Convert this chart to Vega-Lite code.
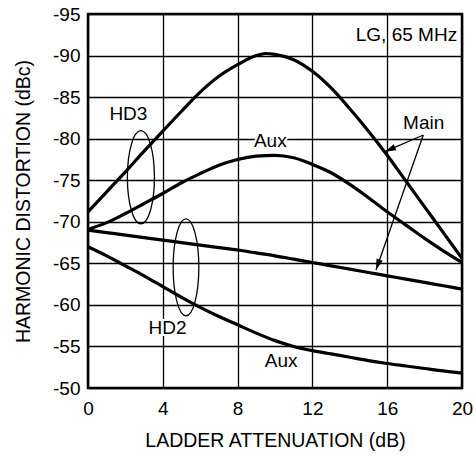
{
  "$schema": "https://vega.github.io/schema/vega-lite/v6.json",
  "width": 374,
  "height": 374,
  "autosize": {"type": "none"},
  "padding": {"left": 88, "top": 14, "right": 12, "bottom": 70},
  "background": "white",
  "config": {
    "font": "Liberation Sans",
    "view": {"stroke": "#000", "strokeWidth": 2.5},
    "axis": {
      "grid": true, "gridColor": "#000", "gridWidth": 1.3, "gridOpacity": 1,
      "domain": false, "ticks": false, "tickSize": 0,
      "labelFont": "Liberation Sans", "labelFontSize": 19, "labelColor": "#000",
      "labelFlush": false, "labelOverlap": false,
      "titleFont": "Liberation Sans", "titleFontSize": 19.5, "titleFontWeight": "normal", "titleColor": "#000"
    }
  },
  "datasets": {
    "curves": [
      {"series": "HD3 Main", "x": 0, "y": -71.2}, {"series": "HD3 Main", "x": 1, "y": -73.6}, {"series": "HD3 Main", "x": 2, "y": -76.0},
      {"series": "HD3 Main", "x": 3, "y": -78.5}, {"series": "HD3 Main", "x": 4, "y": -80.9}, {"series": "HD3 Main", "x": 5, "y": -83.3},
      {"series": "HD3 Main", "x": 6, "y": -85.6}, {"series": "HD3 Main", "x": 7, "y": -87.5}, {"series": "HD3 Main", "x": 8, "y": -88.9},
      {"series": "HD3 Main", "x": 9, "y": -90.0}, {"series": "HD3 Main", "x": 9.5, "y": -90.25}, {"series": "HD3 Main", "x": 10, "y": -90.15},
      {"series": "HD3 Main", "x": 11, "y": -89.5}, {"series": "HD3 Main", "x": 12, "y": -88.1}, {"series": "HD3 Main", "x": 13, "y": -86.1},
      {"series": "HD3 Main", "x": 14, "y": -83.6}, {"series": "HD3 Main", "x": 15, "y": -80.9}, {"series": "HD3 Main", "x": 16, "y": -78.0},
      {"series": "HD3 Main", "x": 17, "y": -74.9}, {"series": "HD3 Main", "x": 18, "y": -71.8}, {"series": "HD3 Main", "x": 19, "y": -68.7},
      {"series": "HD3 Main", "x": 20, "y": -65.6},
      {"series": "HD3 Aux", "x": 0, "y": -69.1}, {"series": "HD3 Aux", "x": 1, "y": -69.9}, {"series": "HD3 Aux", "x": 2, "y": -71.0},
      {"series": "HD3 Aux", "x": 3, "y": -72.2}, {"series": "HD3 Aux", "x": 4, "y": -73.4}, {"series": "HD3 Aux", "x": 5, "y": -74.7},
      {"series": "HD3 Aux", "x": 6, "y": -75.8}, {"series": "HD3 Aux", "x": 7, "y": -76.8}, {"series": "HD3 Aux", "x": 8, "y": -77.5},
      {"series": "HD3 Aux", "x": 9, "y": -77.9}, {"series": "HD3 Aux", "x": 10, "y": -78.0}, {"series": "HD3 Aux", "x": 11, "y": -77.7},
      {"series": "HD3 Aux", "x": 12, "y": -76.9}, {"series": "HD3 Aux", "x": 13, "y": -75.9}, {"series": "HD3 Aux", "x": 14, "y": -74.5},
      {"series": "HD3 Aux", "x": 15, "y": -72.9}, {"series": "HD3 Aux", "x": 16, "y": -71.2}, {"series": "HD3 Aux", "x": 17, "y": -69.6},
      {"series": "HD3 Aux", "x": 18, "y": -68.0}, {"series": "HD3 Aux", "x": 19, "y": -66.5}, {"series": "HD3 Aux", "x": 20, "y": -65.1},
      {"series": "HD2 Main", "x": 0, "y": -69.0}, {"series": "HD2 Main", "x": 1, "y": -68.7}, {"series": "HD2 Main", "x": 2, "y": -68.4},
      {"series": "HD2 Main", "x": 3, "y": -68.1}, {"series": "HD2 Main", "x": 4, "y": -67.8}, {"series": "HD2 Main", "x": 5, "y": -67.5},
      {"series": "HD2 Main", "x": 6, "y": -67.2}, {"series": "HD2 Main", "x": 7, "y": -66.9}, {"series": "HD2 Main", "x": 8, "y": -66.6},
      {"series": "HD2 Main", "x": 9, "y": -66.25}, {"series": "HD2 Main", "x": 10, "y": -65.9}, {"series": "HD2 Main", "x": 11, "y": -65.5},
      {"series": "HD2 Main", "x": 12, "y": -65.1}, {"series": "HD2 Main", "x": 13, "y": -64.7}, {"series": "HD2 Main", "x": 14, "y": -64.3},
      {"series": "HD2 Main", "x": 15, "y": -63.9}, {"series": "HD2 Main", "x": 16, "y": -63.5}, {"series": "HD2 Main", "x": 17, "y": -63.1},
      {"series": "HD2 Main", "x": 18, "y": -62.7}, {"series": "HD2 Main", "x": 19, "y": -62.3}, {"series": "HD2 Main", "x": 20, "y": -61.9},
      {"series": "HD2 Aux", "x": 0, "y": -67.0}, {"series": "HD2 Aux", "x": 1, "y": -65.9}, {"series": "HD2 Aux", "x": 2, "y": -64.7},
      {"series": "HD2 Aux", "x": 3, "y": -63.5}, {"series": "HD2 Aux", "x": 4, "y": -62.2}, {"series": "HD2 Aux", "x": 5, "y": -60.9},
      {"series": "HD2 Aux", "x": 6, "y": -59.7}, {"series": "HD2 Aux", "x": 7, "y": -58.6}, {"series": "HD2 Aux", "x": 8, "y": -57.6},
      {"series": "HD2 Aux", "x": 9, "y": -56.6}, {"series": "HD2 Aux", "x": 10, "y": -55.7}, {"series": "HD2 Aux", "x": 11, "y": -55.0},
      {"series": "HD2 Aux", "x": 12, "y": -54.5}, {"series": "HD2 Aux", "x": 13, "y": -54.1}, {"series": "HD2 Aux", "x": 14, "y": -53.7},
      {"series": "HD2 Aux", "x": 15, "y": -53.3}, {"series": "HD2 Aux", "x": 16, "y": -52.95}, {"series": "HD2 Aux", "x": 17, "y": -52.65},
      {"series": "HD2 Aux", "x": 18, "y": -52.35}, {"series": "HD2 Aux", "x": 19, "y": -52.05}, {"series": "HD2 Aux", "x": 20, "y": -51.8}
    ],
    "arrows": [
      {"id": "a1", "x": 17.93, "y": -80.44, "x2": 15.88, "y2": -78.43},
      {"id": "a2", "x": 17.93, "y": -80.44, "x2": 15.4, "y2": -64.2}
    ],
    "ellipses": [
      {"group": "HD3", "x": 2.83, "y": -75.35},
      {"group": "HD2", "x": 5.24, "y": -64.52}
    ],
    "labels": [
      {"label": "HD3", "x": 2.16, "y": -83.0},
      {"label": "Aux", "x": 9.75, "y": -79.74},
      {"label": "Main", "x": 17.95, "y": -81.94},
      {"label": "LG, 65 MHz", "x": 17.03, "y": -92.47},
      {"label": "HD2", "x": 4.25, "y": -57.27},
      {"label": "Aux", "x": 10.33, "y": -53.27}
    ]
  },
  "encoding": {
    "x": {
      "field": "x", "type": "quantitative",
      "scale": {"domain": [0, 20], "nice": false, "zero": false},
      "axis": {
        "values": [0, 4, 8, 12, 16, 20], "title": "LADDER ATTENUATION (dB)",
        "labelPadding": 11, "labelExpr": "'' + datum.value",
        "titleX": 187, "titleY": 58, "titleBaseline": "alphabetic", "titleAlign": "center"
      }
    },
    "y": {
      "field": "y", "type": "quantitative",
      "scale": {"domain": [-95, -50], "reverse": true, "nice": false, "zero": false},
      "axis": {
        "values": [-95, -90, -85, -80, -75, -70, -65, -60, -55, -50], "title": "HARMONIC DISTORTION (dBc)",
        "labelPadding": 8, "labelExpr": "'' + datum.value",
        "titleX": -59, "titleY": 187, "titleAngle": -90, "titleBaseline": "alphabetic", "titleAlign": "center"
      }
    }
  },
  "layer": [
    {
      "data": {"name": "curves"},
      "mark": {"type": "line", "stroke": "#000", "strokeWidth": 3.2, "interpolate": "monotone"},
      "encoding": {"detail": {"field": "series"}}
    },
    {
      "data": {"name": "arrows"},
      "mark": {"type": "rule", "stroke": "#000", "strokeWidth": 1.3},
      "encoding": {"x2": {"field": "x2"}, "y2": {"field": "y2"}}
    },
    {
      "data": {"name": "arrows"},
      "transform": [{"filter": "datum.id == 'a1'"}],
      "mark": {"type": "point", "shape": "M0,0L0.6,2L-0.6,2Z", "size": 121, "angle": 246.4, "filled": true, "fill": "#000", "opacity": 1, "strokeWidth": 0},
      "encoding": {"x": {"field": "x2", "type": "quantitative"}, "y": {"field": "y2", "type": "quantitative"}}
    },
    {
      "data": {"name": "arrows"},
      "transform": [{"filter": "datum.id == 'a2'"}],
      "mark": {"type": "point", "shape": "M0,0L0.6,2L-0.6,2Z", "size": 121, "angle": 199.3, "filled": true, "fill": "#000", "opacity": 1, "strokeWidth": 0},
      "encoding": {"x": {"field": "x2", "type": "quantitative"}, "y": {"field": "y2", "type": "quantitative"}}
    },
    {
      "data": {"name": "ellipses"},
      "transform": [{"filter": "datum.group == 'HD3'"}],
      "mark": {"type": "point", "shape": "M0,-1A0.29,1,0,1,1,0,1A0.29,1,0,1,1,0,-1Z", "size": 8700, "filled": false, "stroke": "#000", "strokeWidth": 1.3, "opacity": 1}
    },
    {
      "data": {"name": "ellipses"},
      "transform": [{"filter": "datum.group == 'HD2'"}],
      "mark": {"type": "point", "shape": "M0,-1A0.265,1,0,1,1,0,1A0.265,1,0,1,1,0,-1Z", "size": 9400, "filled": false, "stroke": "#000", "strokeWidth": 1.3, "opacity": 1}
    },
    {
      "data": {"name": "labels"},
      "mark": {"type": "text", "font": "Liberation Sans", "fontSize": 19, "align": "center", "baseline": "middle", "fill": "white", "stroke": "white", "strokeWidth": 4, "strokeJoin": "round"},
      "encoding": {"text": {"field": "label"}}
    },
    {
      "data": {"name": "labels"},
      "mark": {"type": "text", "font": "Liberation Sans", "fontSize": 19, "align": "center", "baseline": "middle", "fill": "#000"},
      "encoding": {"text": {"field": "label"}}
    }
  ]
}
